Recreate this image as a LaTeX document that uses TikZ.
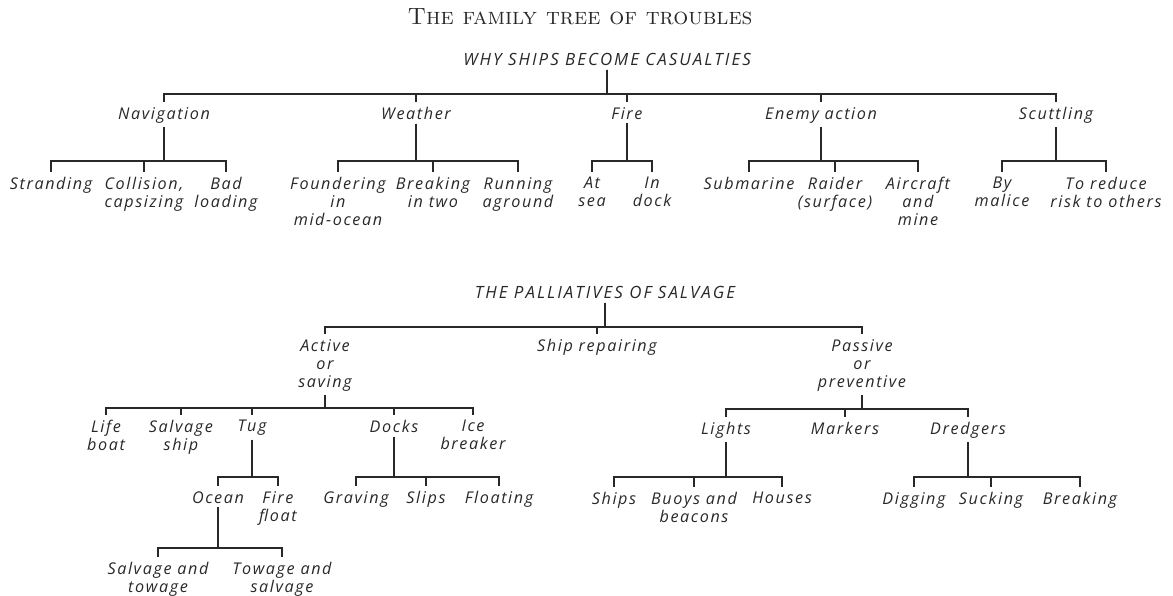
\documentclass[tikz,border=0pt]{standalone}
\usepackage{fontspec}
\newfontfamily\stencil[LetterSpace=10]{Open Sans}
\newfontfamily\stencilcaps[LetterSpace=12]{Open Sans}
\definecolor{ink}{RGB}{40,40,40}
\tikzset{
  lbl/.style={font=\stencil\itshape\fontsize{9.2}{10.3}\selectfont, align=center, inner sep=0pt, anchor=north, text=ink},
  head/.style={lbl, font=\stencilcaps\itshape\fontsize{9.6}{11}\selectfont},
  bigtitle/.style={font=\fontsize{13.4}{15}\selectfont, inner sep=0pt, anchor=base, text=ink},
  link/.style={draw=ink, line width=0.75pt, shorten <=2pt, shorten >=3pt},
}
\begin{document}
\begin{tikzpicture}[x=0.02cm, y=-0.02cm]
% page frame, same size as the scan
\useasboundingbox (0,0) rectangle (1173,595);

\node[bigtitle] (title) at (580,25) {\textsc{The family tree of troubles}};

% Why ships become casualties
\node[head] (why) at (607,53) {WHY SHIPS BECOME CASUALTIES};

\node[lbl] (nav) at (164,107) {Navigation};
\node[lbl] (weather) at (416,107) {Weather};
\node[lbl] (fire) at (627,107) {Fire};
\node[lbl] (enemy) at (821,107) {Enemy action};
\node[lbl] (scuttle) at (1056,107) {Scuttling};

\node[lbl] (strand) at (51,177) {Stranding};
\node[lbl] (collide) at (144,177) {Collision,\\capsizing};
\node[lbl] (badload) at (226,177) {Bad\\loading};
\node[lbl] (founder) at (338,177) {Foundering\\in\\mid-ocean};
\node[lbl] (breaktwo) at (433,177) {Breaking\\in two};
\node[lbl] (aground) at (518,177) {Running\\aground};
\node[lbl] (atsea) at (592,177) {At\\sea};
\node[lbl] (indock) at (652,177) {In\\dock};
\node[lbl] (submarine) at (749,177) {Submarine};
\node[lbl] (raider) at (835,177) {Raider\\(surface)};
\node[lbl] (aircraft) at (918,177) {Aircraft\\and\\mine};
\node[lbl] (malice) at (1002,177) {By\\malice};
\node[lbl] (reduce) at (1106,177) {To reduce\\risk to others};

\foreach \c in {nav,weather,fire,enemy,scuttle}
  \draw[link] (why.south) -- (why.south |- 0,94) -| (\c.north);
\foreach \c in {strand,collide,badload}
  \draw[link] (nav.south) -- (nav.south |- 0,161) -| (\c.north);
\foreach \c in {founder,breaktwo,aground}
  \draw[link] (weather.south) -- (weather.south |- 0,161) -| (\c.north);
\foreach \c in {atsea,indock}
  \draw[link] (fire.south) -- (fire.south |- 0,161) -| (\c.north);
\foreach \c in {submarine,raider,aircraft}
  \draw[link] (enemy.south) -- (enemy.south |- 0,161) -| (\c.north);
\foreach \c in {malice,reduce}
  \draw[link] (scuttle.south) -- (scuttle.south |- 0,161) -| (\c.north);

% The palliatives of salvage
\node[head] (pall) at (605,286) {THE PALLIATIVES OF SALVAGE};

\node[lbl] (active) at (325,339) {Active\\or\\saving};
\node[lbl] (repair) at (597,339) {Ship repairing};
\node[lbl] (passive) at (862,339) {Passive\\or\\preventive};

\node[lbl] (lifeboat) at (106,420) {Life\\boat};
\node[lbl] (salvship) at (181,420) {Salvage\\ship};
\node[lbl] (tug) at (252,420) {Tug};
\node[lbl] (docks) at (394,420) {Docks};
\node[lbl] (icebreak) at (473,420) {Ice\\breaker};
\node[lbl] (lights) at (726,422) {Lights};
\node[lbl] (markers) at (845,422) {Markers};
\node[lbl] (dredgers) at (968,422) {Dredgers};

\node[lbl] (ocean) at (218,491) {Ocean};
\node[lbl] (firefloat) at (278,491) {Fire\\float};
\node[lbl] (graving) at (356,491) {Graving};
\node[lbl] (slips) at (426,491) {Slips};
\node[lbl] (floating) at (499,491) {Floating};
\node[lbl] (ships) at (614,492) {Ships};
\node[lbl] (buoys) at (694,492) {Buoys and\\beacons};
\node[lbl] (houses) at (782,492) {Houses};
\node[lbl] (digging) at (914,492) {Digging};
\node[lbl] (sucking) at (991,492) {Sucking};
\node[lbl] (breaking) at (1080,492) {Breaking};

\node[lbl] (salvtow) at (158,562) {Salvage and\\towage};
\node[lbl] (towsalv) at (282,562) {Towage and\\salvage};

\foreach \c in {active,repair,passive}
  \draw[link] (pall.south) -- (pall.south |- 0,327) -| (\c.north);
\foreach \c in {lifeboat,salvship,tug,docks,icebreak}
  \draw[link] (active.south) -- (active.south |- 0,408) -| (\c.north);
\foreach \c in {lights,markers,dredgers}
  \draw[link] (passive.south) -- (passive.south |- 0,409) -| (\c.north);
\foreach \c in {ocean,firefloat}
  \draw[link] (tug.south) -- (tug.south |- 0,477) -| (\c.north);
\foreach \c in {graving,slips,floating}
  \draw[link] (docks.south) -- (docks.south |- 0,477) -| (\c.north);
\foreach \c in {ships,buoys,houses}
  \draw[link] (lights.south) -- (lights.south |- 0,477) -| (\c.north);
\foreach \c in {digging,sucking,breaking}
  \draw[link] (dredgers.south) -- (dredgers.south |- 0,477) -| (\c.north);
\foreach \c in {salvtow,towsalv}
  \draw[link] (ocean.south) -- (ocean.south |- 0,548) -| (\c.north);
\end{tikzpicture}
\end{document}
